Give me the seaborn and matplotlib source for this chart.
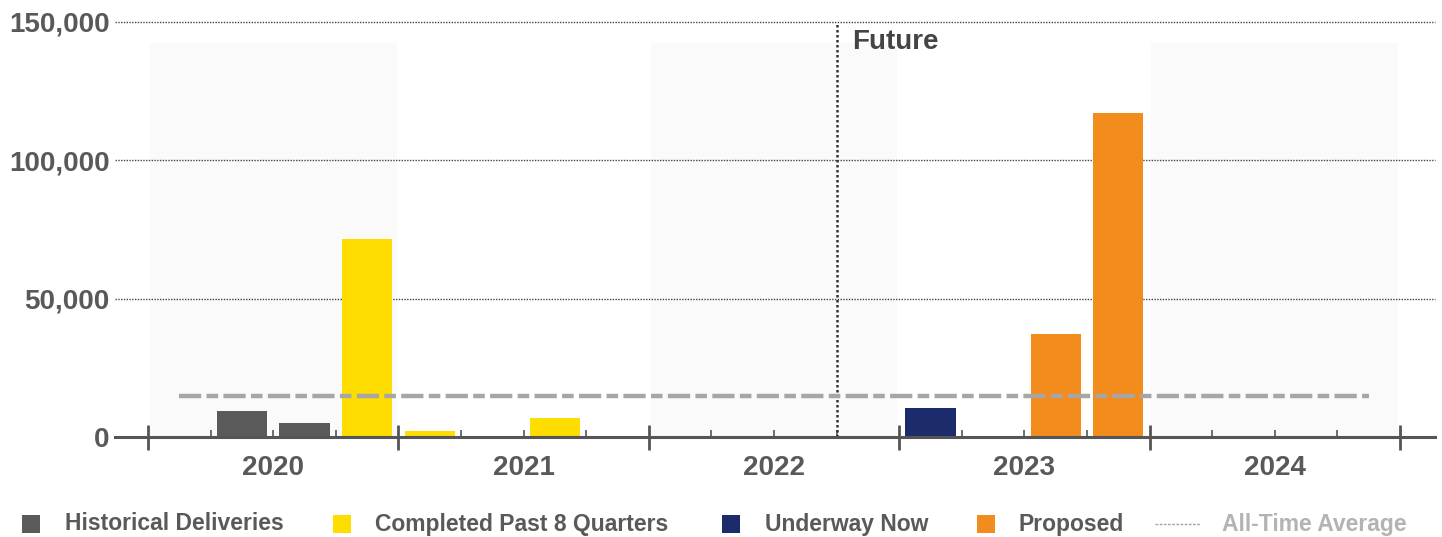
import matplotlib
matplotlib.use("Agg")
import matplotlib.pyplot as plt
from matplotlib.patches import Rectangle
from matplotlib.lines import Line2D
from matplotlib.ticker import FuncFormatter
import seaborn as sns
import pandas as pd

# ---------------- data ----------------
years = ["2020", "2021", "2022", "2023", "2024"]
quarters = [f"{y} Q{q}" for y in years for q in range(1, 5)]
historical = [0, 9500, 5000, 0,  0, 0, 0, 0,  0, 0, 0, 0,  0, 0, 0, 0,  0, 0, 0, 0]
completed  = [0, 0, 0, 71500,  2200, 0, 7000, 0,  0, 0, 0, 0,  0, 0, 0, 0,  0, 0, 0, 0]
underway   = [0, 0, 0, 0,  0, 0, 0, 0,  0, 0, 0, 0,  10400, 0, 0, 0,  0, 0, 0, 0]
proposed   = [0, 0, 0, 0,  0, 0, 0, 0,  0, 0, 0, 0,  0, 0, 37200, 117000,  0, 0, 0, 0]
all_time_average = 15000
series_names = ["Historical Deliveries", "Completed Past 8 Quarters", "Underway Now", "Proposed"]
avg_name = "All-Time Average"
future_label = "Future"
future_after_quarter = "2022 Q3"
y_ticks = [0, 50000, 100000, 150000]

colors = ["#5a5a5a", "#FFDD00", "#1C2B6B", "#F28C1C"]
avg_color = "#a6a6a6"
text_color = "#595959"

# ---------------- frame ----------------
rows = []
for name, vals in zip(series_names, [historical, completed, underway, proposed]):
    for q, v in zip(quarters, vals):
        rows.append({"quarter": q, "value": v, "series": name})
df = pd.DataFrame(rows)

sns.set_theme(style="white")
plt.rcParams["font.family"] = ["Liberation Sans", "DejaVu Sans"]
plt.rcParams["font.weight"] = "bold"

W, H = 1442, 537
fig = plt.figure(figsize=(W / 100, H / 100), dpi=100)
ax = fig.add_axes([115 / W, 1 - 437 / H, (1435 - 115) / W, (437 - 22) / H])

# faint alternating year bands
for i in range(0, len(years), 2):
    ax.axvspan(i * 4 - 0.5 + 0.03, i * 4 + 3.5 - 0.03, ymin=0.0, ymax=0.95,
               color="#fafafa", zorder=0, lw=0)

sns.barplot(data=df, x="quarter", y="value", hue="series", order=quarters,
            hue_order=series_names, palette=colors, dodge=False, width=0.8,
            saturation=1, linewidth=0, legend=False, ax=ax, zorder=3,
            errorbar=None)

# all-time average
avg_line, = ax.plot(range(len(quarters)), [all_time_average] * len(quarters),
                    color=avg_color, lw=3.2, zorder=4)
avg_line.set_dashes([5.0, 1.2, 2.6, 1.2])

ax.set_xlim(-1.028, 20.06)
ax.set_ylim(0, 150000)
ax.set_xlabel("")
ax.set_ylabel("")

# grid
ax.set_axisbelow(True)
ax.set_yticks(y_ticks)
ax.yaxis.set_major_formatter(FuncFormatter(lambda v, p: f"{int(v):,}"))
ax.yaxis.grid(True, linestyle=(0, (1, 1)), color="#444444", lw=1)
ax.xaxis.grid(False)
for gl in ax.yaxis.get_gridlines():
    gl.set_clip_on(False)
ax.yaxis.get_gridlines()[0].set_visible(False)

ax.tick_params(axis="y", length=0, pad=4, labelsize=20, labelcolor=text_color)

# x axis ticks at year / quarter boundaries
major = [i * 4 - 0.5 for i in range(len(years) + 1)]
minor = [q - 0.5 for q in range(len(quarters) + 1) if q % 4 != 0]
ax.set_xticks(major)
ax.set_xticklabels([""] * len(major))
ax.set_xticks(minor, minor=True)
ax.tick_params(axis="x", which="major", direction="inout", length=18, width=2,
               color="#555555", bottom=True)
ax.tick_params(axis="x", which="minor", direction="in", length=5, width=1.2,
               color="#555555", bottom=True)

for s in ["top", "right", "left"]:
    ax.spines[s].set_visible(False)
ax.spines["bottom"].set_color("#555555")
ax.spines["bottom"].set_linewidth(2.2)
ax.spines["bottom"].set_zorder(5)

# year labels
for i, y in enumerate(years):
    ax.annotate(y, xy=(i * 4 + 1.5, 0), xycoords=("data", "axes fraction"),
                xytext=(0, -22.5), textcoords="offset points", ha="center",
                va="center", fontsize=20, color=text_color, fontweight="bold")

# future divider
fx = quarters.index(future_after_quarter) + 0.5
ax.axvline(fx, ymin=0, ymax=1, color="#333333", lw=1.8, ls=(0, (1, 1)), zorder=2)
ax.annotate(future_label, xy=(fx, 1), xycoords=("data", "axes fraction"),
            xytext=(11.5, -14.5), textcoords="offset points", ha="left",
            va="center", fontsize=20, color="#444444", fontweight="bold")

# legend (manual layout at bottom)
ly = 1 - 524 / H
sq = 18
square_x = [22, 333, 722, 977]
text_x = [65, 375, 765, 1018]
for name, c, sx, tx in zip(series_names, colors, square_x, text_x):
    fig.patches.append(Rectangle((sx / W, ly - sq / 2 / H), sq / W, sq / H,
                                 transform=fig.transFigure, color=c, lw=0))
    fig.text(tx / W, ly, name, ha="left", va="center", fontsize=16.5,
             color=text_color, fontweight="bold")
fig.lines.append(Line2D([1155 / W, 1200 / W], [ly, ly], transform=fig.transFigure,
                        color=avg_color, lw=1, ls=(0, (2, 1))))
fig.text(1222 / W, ly, avg_name, ha="left", va="center", fontsize=16.5,
         color="#b3b3b3", fontweight="bold")

fig.savefig("out.png", dpi=100)
